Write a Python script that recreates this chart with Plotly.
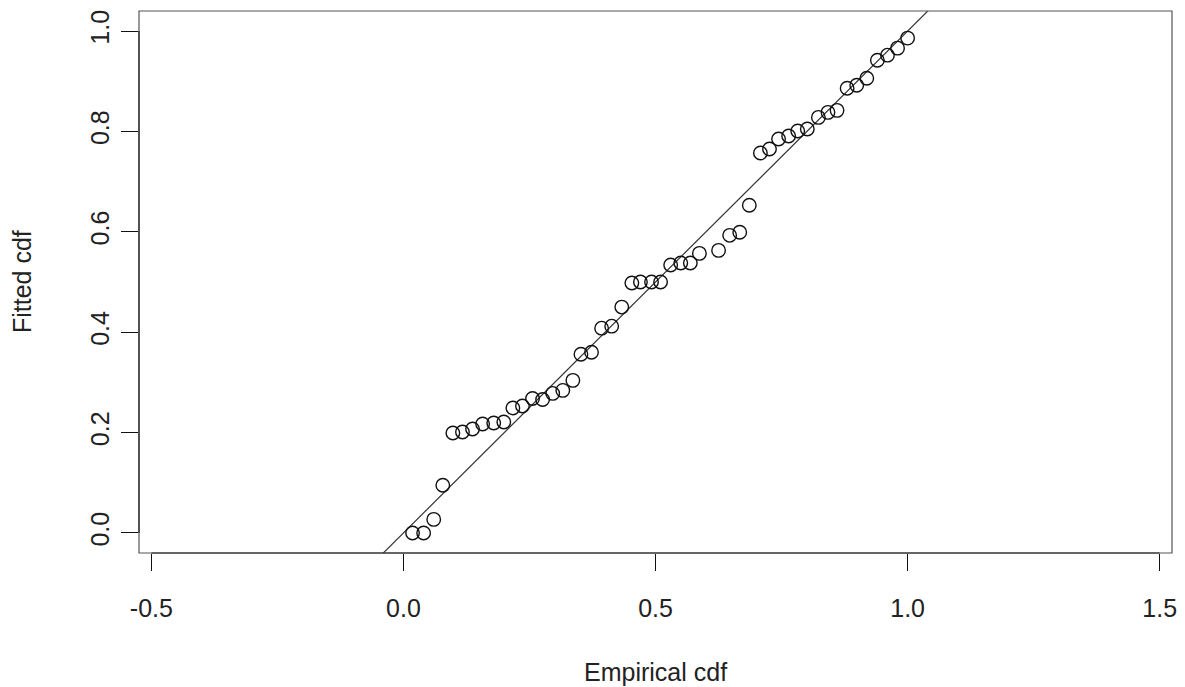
import plotly.graph_objects as go

# Empirical cdf (x) and fitted cdf (y)
empirical_cdf = [0.018, 0.040, 0.060, 0.078, 0.098, 0.117, 0.137, 0.157, 0.179, 0.199,
                 0.217, 0.236, 0.256, 0.276, 0.296, 0.316, 0.336, 0.352, 0.373, 0.393,
                 0.413, 0.433, 0.453, 0.470, 0.492, 0.510, 0.530, 0.550, 0.569, 0.587,
                 0.625, 0.647, 0.667, 0.686, 0.708, 0.726, 0.744, 0.764, 0.782, 0.801,
                 0.823, 0.842, 0.860, 0.880, 0.899, 0.919, 0.940, 0.960, 0.980, 1.000]
fitted_cdf = [0.000, 0.000, 0.027, 0.095, 0.199, 0.201, 0.207, 0.217, 0.219, 0.221,
              0.249, 0.253, 0.268, 0.266, 0.278, 0.284, 0.304, 0.356, 0.360, 0.408,
              0.412, 0.450, 0.498, 0.500, 0.500, 0.500, 0.534, 0.538, 0.538, 0.557,
              0.563, 0.593, 0.599, 0.653, 0.757, 0.765, 0.785, 0.791, 0.801, 0.805,
              0.828, 0.838, 0.842, 0.886, 0.892, 0.906, 0.942, 0.952, 0.966, 0.986]

# Reference line y = x
ref_line_x = [-1.0, 2.0]
ref_line_y = [-1.0, 2.0]

x_ticks = [-0.5, 0.0, 0.5, 1.0, 1.5]
x_tick_labels = ["-0.5", "0.0", "0.5", "1.0", "1.5"]
y_ticks = [0.0, 0.2, 0.4, 0.6, 0.8, 1.0]
y_tick_labels = ["0.0", "0.2", "0.4", "0.6", "0.8", "1.0"]

FONT = "Liberation Sans, Arial, sans-serif"
FS = 25
W, H = 1185, 687
ML, MR, MT, MB = 139.3, 12.7, 10.9, 134.3

fig = go.Figure()
fig.add_trace(go.Scatter(
    x=ref_line_x, y=ref_line_y, mode="lines",
    line=dict(color="#333333", width=1.2), hoverinfo="skip", showlegend=False))
fig.add_trace(go.Scatter(
    x=empirical_cdf, y=fitted_cdf, mode="markers",
    marker=dict(symbol="circle-open", size=13.5, color="#111111",
                line=dict(width=1.4, color="#111111")),
    showlegend=False))

axis_common = dict(showgrid=False, zeroline=False, showline=False,
                   ticks="outside", ticklen=17, tickwidth=1, tickcolor="#111111",
                   ticklabeloverflow="allow",
                   tickfont=dict(family=FONT, size=FS, color="#222222"))

fig.update_xaxes(range=[-0.5246, 1.5244], tickvals=x_ticks, ticktext=x_tick_labels,
                 ticklabelstandoff=16, **axis_common)
fig.update_yaxes(range=[-0.04, 1.04], tickvals=y_ticks, ticktext=y_tick_labels,
                 tickangle=-90, ticklabelstandoff=2, **axis_common)

shapes = [
    # plot box
    dict(type="rect", xref="paper", yref="paper", x0=0, x1=1, y0=0, y1=1,
         line=dict(color="#555555", width=1.2), layer="above"),
    # x axis line (from -0.5 to 1.5)
    dict(type="line", xref="x", yref="paper", x0=-0.5, x1=1.5, y0=0, y1=0,
         line=dict(color="#222222", width=1.2), layer="above"),
    # y axis line (from 0 to 1)
    dict(type="line", xref="paper", yref="y", x0=0, x1=0, y0=0, y1=1,
         line=dict(color="#222222", width=1.2), layer="above"),
]

annotations = [
    dict(text="Empirical cdf", xref="paper", yref="paper", x=0.5, y=0,
         xanchor="center", yanchor="middle", yshift=-119, showarrow=False,
         font=dict(family=FONT, size=FS, color="#222222")),
    dict(text="Fitted cdf", xref="paper", yref="paper", x=0, y=0.5,
         xanchor="center", yanchor="middle", xshift=-117, textangle=-90,
         showarrow=False, font=dict(family=FONT, size=FS, color="#222222")),
]

fig.update_layout(
    width=W, height=H,
    margin=dict(l=ML, r=MR, t=MT, b=MB, autoexpand=False),
    paper_bgcolor="white", plot_bgcolor="white",
    shapes=shapes, annotations=annotations,
)

# remove the default 8px page margin so the figure fills the window exactly
fig.write_html("out.html",
               config={"displayModeBar": False},
               post_script="document.body.style.margin='0px';"
                           "document.body.style.overflow='hidden';")
